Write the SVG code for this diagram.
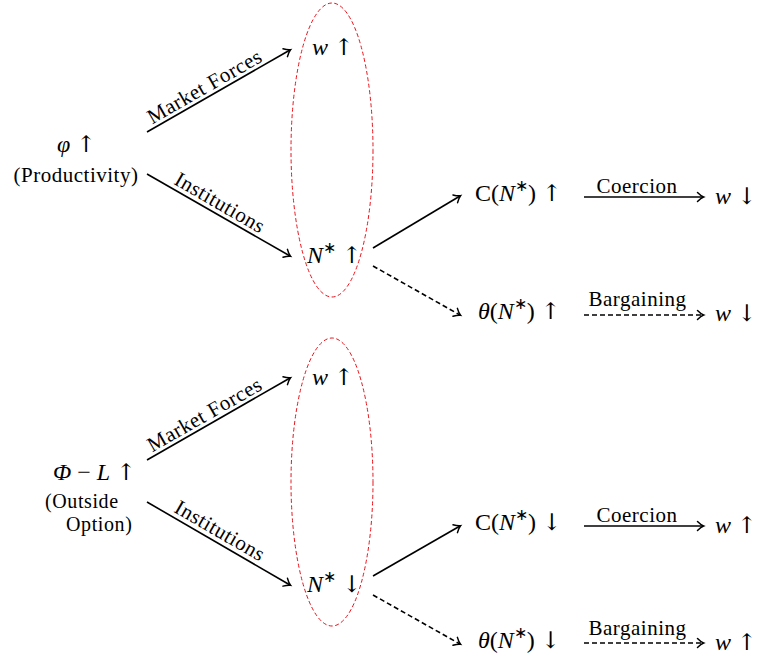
<svg xmlns="http://www.w3.org/2000/svg" width="757" height="658" viewBox="0 0 757 658">
<style>
text{font-family:"Liberation Serif","Times New Roman",serif;fill:#000;font-size:21px}
.t{letter-spacing:0.5px}
.m{font-size:24px}
.i{font-style:italic}
.ar{font-family:"DejaVu Serif","DejaVu Sans",serif;font-size:23px;font-style:normal}
.s{font-size:16px}
.o{font-size:20px;letter-spacing:0.6px}
.a{stroke:#000;stroke-width:1.6;fill:none;marker-end:url(#ah)}
.d{stroke-dasharray:5 3}
.el{fill:none;stroke:#e8141c;stroke-width:1;stroke-dasharray:4 2.5}
</style>
<defs>
<marker id="ah" markerWidth="12" markerHeight="12" viewBox="-7 -6 9 12" refX="0" refY="0" orient="auto" markerUnits="userSpaceOnUse">
<path d="M-5.5,-4.5 Q-2,-1 0.6,0 Q-2,1 -5.5,4.5" fill="none" stroke="#000" stroke-width="1.5" stroke-linecap="round"/>
</marker>
</defs>
<g id="connectors">
<line class="a" x1="147" y1="132" x2="290" y2="50"/>
<line class="a" x1="147" y1="174" x2="290" y2="256"/>
<line class="a" x1="373" y1="248" x2="460" y2="196"/>
<line class="a d" x1="373" y1="266" x2="460" y2="315"/>
<line class="a" x1="584" y1="197" x2="703" y2="197"/>
<line class="a d" x1="584" y1="315" x2="703" y2="315"/>
<line class="a" x1="147" y1="460" x2="290" y2="378"/>
<line class="a" x1="147" y1="502" x2="290" y2="585"/>
<line class="a" x1="373" y1="576" x2="460" y2="526"/>
<line class="a d" x1="373" y1="595" x2="460" y2="644"/>
<line class="a" x1="584" y1="526" x2="703" y2="526"/>
<line class="a d" x1="584" y1="643" x2="703" y2="643"/>
<text class="t" transform="translate(208,92.5) rotate(-29.8)" text-anchor="middle">Market Forces</text>
<text class="t" transform="translate(216.5,208.7) rotate(30.1)" text-anchor="middle">Institutions</text>
<text class="t" x="637" y="193" text-anchor="middle">Coercion</text>
<text class="t" x="637.5" y="306" text-anchor="middle">Bargaining</text>
<text class="t" transform="translate(208,420.5) rotate(-29.8)" text-anchor="middle">Market Forces</text>
<text class="t" transform="translate(216.5,536.7) rotate(30.1)" text-anchor="middle">Institutions</text>
<text class="t" x="637" y="522" text-anchor="middle">Coercion</text>
<text class="t" x="637.5" y="635" text-anchor="middle">Bargaining</text>
</g>
<g id="group-top"><ellipse class="el" cx="332" cy="150" rx="41" ry="147"/></g>
<g id="group-bottom"><ellipse class="el" cx="332" cy="482" rx="41" ry="144"/></g>
<g id="phi"><text class="m" x="57" y="152"><tspan class="i">φ</tspan> <tspan class="ar">↑</tspan></text><text class="t" x="76" y="182" text-anchor="middle">(Productivity)</text></g>
<g id="w1"><text class="m" x="312" y="55"><tspan class="i">w</tspan> <tspan class="ar">↑</tspan></text></g>
<g id="n1"><text class="m" x="307" y="263"><tspan class="i">N</tspan><tspan class="s" dy="-10">∗</tspan><tspan dy="10"> </tspan><tspan class="ar">↑</tspan></text></g>
<g id="c1"><text class="m" x="475" y="201">C(<tspan class="i">N</tspan><tspan class="s" dy="-10">∗</tspan><tspan dy="10">) </tspan><tspan class="ar">↑</tspan></text></g>
<g id="w2"><text class="m" x="715" y="204"><tspan class="i">w</tspan> <tspan class="ar">↓</tspan></text></g>
<g id="t1"><text class="m" x="478" y="319"><tspan class="i">θ</tspan>(<tspan class="i">N</tspan><tspan class="s" dy="-10">∗</tspan><tspan dy="10">) </tspan><tspan class="ar">↑</tspan></text></g>
<g id="w3"><text class="m" x="715" y="321"><tspan class="i">w</tspan> <tspan class="ar">↓</tspan></text></g>
<g id="PhiL"><text class="m" x="53" y="480"><tspan class="i">Φ</tspan> − <tspan class="i">L</tspan> <tspan class="ar">↑</tspan></text><text class="o" x="45" y="508">(Outside</text><text class="o" x="66" y="531">Option)</text></g>
<g id="w4"><text class="m" x="312" y="385"><tspan class="i">w</tspan> <tspan class="ar">↑</tspan></text></g>
<g id="n2"><text class="m" x="307" y="592"><tspan class="i">N</tspan><tspan class="s" dy="-10">∗</tspan><tspan dy="10"> </tspan><tspan class="ar">↓</tspan></text></g>
<g id="c2"><text class="m" x="475" y="530">C(<tspan class="i">N</tspan><tspan class="s" dy="-10">∗</tspan><tspan dy="10">) </tspan><tspan class="ar">↓</tspan></text></g>
<g id="w5"><text class="m" x="715" y="533"><tspan class="i">w</tspan> <tspan class="ar">↑</tspan></text></g>
<g id="t2"><text class="m" x="478" y="648"><tspan class="i">θ</tspan>(<tspan class="i">N</tspan><tspan class="s" dy="-10">∗</tspan><tspan dy="10">) </tspan><tspan class="ar">↓</tspan></text></g>
<g id="w6"><text class="m" x="715" y="650"><tspan class="i">w</tspan> <tspan class="ar">↑</tspan></text></g>
</svg>
